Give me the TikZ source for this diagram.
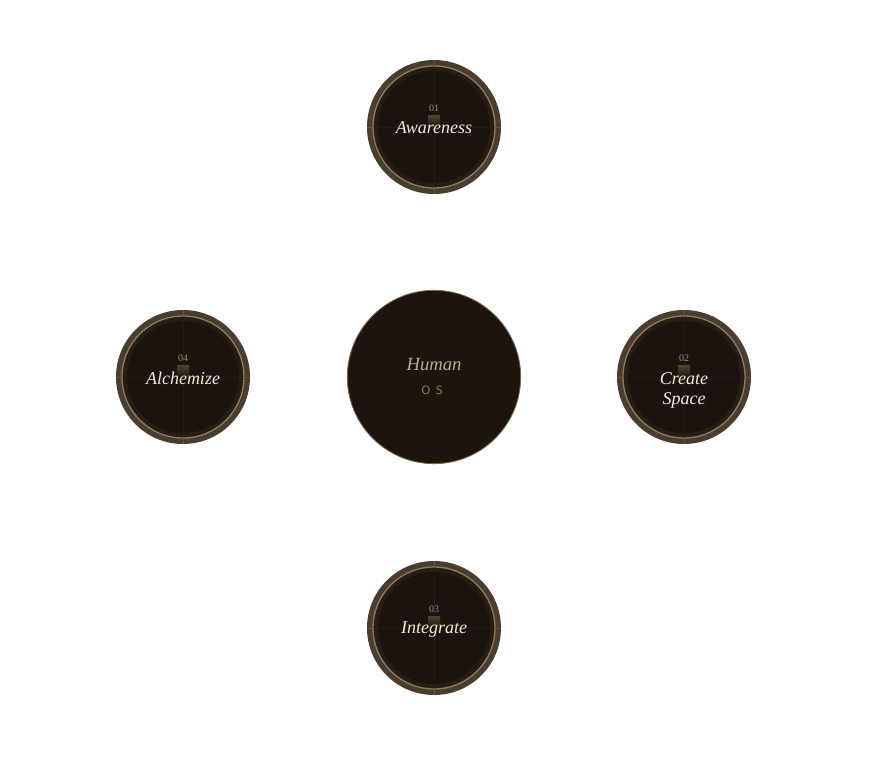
\documentclass[tikz,border=0pt]{standalone}
\usepackage{fontspec}
\setmainfont{Liberation Serif}
\usetikzlibrary{calc}
\definecolor{outerc}{HTML}{4A3C2E}
\definecolor{midc}{HTML}{261E16}
\definecolor{goldc}{HTML}{8C7B5C}
\definecolor{innerc}{HTML}{1B140E}
\definecolor{crossc}{HTML}{241B13}
\definecolor{glowc}{HTML}{5A4B39}
\definecolor{labc}{HTML}{F2EADB}
\definecolor{numc}{HTML}{9A8B70}
\definecolor{humanc}{HTML}{BBAA8A}
\definecolor{osc}{HTML}{8F7D5A}
\definecolor{hubfill}{HTML}{1C150E}
\definecolor{hubedge}{HTML}{7A6548}
\newcommand\satellite[6]{%
  \node[outerdisc] (#1) at (#2,#3) {};
  \fill[midc] (#1.center) circle (45.75pt);
  \draw[goldc, line width=1pt] (#1.center) circle (45.75pt);
  \fill[innerc] (#1.center) circle (42pt);
  \draw[crossc, line width=0.5pt] ($(#1.center)+(-56,0)$) -- ($(#1.center)+(56,0)$);
  \draw[crossc, line width=0.5pt] ($(#1.center)+(0,-56)$) -- ($(#1.center)+(0,56)$);
  \draw[goldc!40!outerc, line width=0.5pt] ($(#1.center)+(0,-67)$) -- ($(#1.center)+(0,-62)$);
  \draw[goldc!40!outerc, line width=0.5pt] ($(#1.center)+(0,67)$) -- ($(#1.center)+(0,62)$);
  \draw[goldc!40!outerc, line width=0.5pt] ($(#1.center)+(-67,0)$) -- ($(#1.center)+(-62,0)$);
  \draw[goldc!40!outerc, line width=0.5pt] ($(#1.center)+(67,0)$) -- ($(#1.center)+(62,0)$);
  \shade[top color=glowc, bottom color=innerc, opacity=0.85] ($(#1.center)+(-6,-12)$) rectangle ($(#1.center)+(6,1)$);
  \node[numtxt] (#1num) at ($(#1.center)+(0,-19)$) {#4};
  \node[labtxt] (#1lab) at ($(#1.center)+(0,#6)$) {#5};
}
\begin{document}
\begin{tikzpicture}[x=0.75pt,y=-0.75pt,
  outerdisc/.style={circle, fill=outerc, draw=none, minimum size=100.5pt, inner sep=0pt},
  numtxt/.style={text=numc, font=\fontsize{7.5}{8}\selectfont, inner sep=0pt},
  labtxt/.style={text=labc, font=\fontsize{13.5}{15}\selectfont\itshape, inner sep=0pt, align=center},
  hub/.style={circle, fill=hubfill, draw=hubedge, line width=0.6pt, minimum size=130pt, inner sep=0pt}]
\fill[white] (0,0) rectangle (896,771);
\useasboundingbox (0,0) rectangle (896,771);
% hub
\node[hub] (hub) at (434,377) {};
\node[text=humanc, font=\fontsize{14}{15}\selectfont\itshape, inner sep=0pt] (human) at (434,364) {Human};
\node[text=osc, font=\fontsize{9}{10}\selectfont\sffamily, inner sep=0pt] (os) at (432,390) {O\hspace{4pt}S};
% satellites
\satellite{aw}{434}{127}{01}{Awareness}{1}
\satellite{cs}{684}{377}{02}{Create\\Space}{13}
\satellite{in}{434}{628}{03}{Integrate}{2}
\satellite{al}{183}{377}{04}{Alchemize}{1}
\end{tikzpicture}
\end{document}
